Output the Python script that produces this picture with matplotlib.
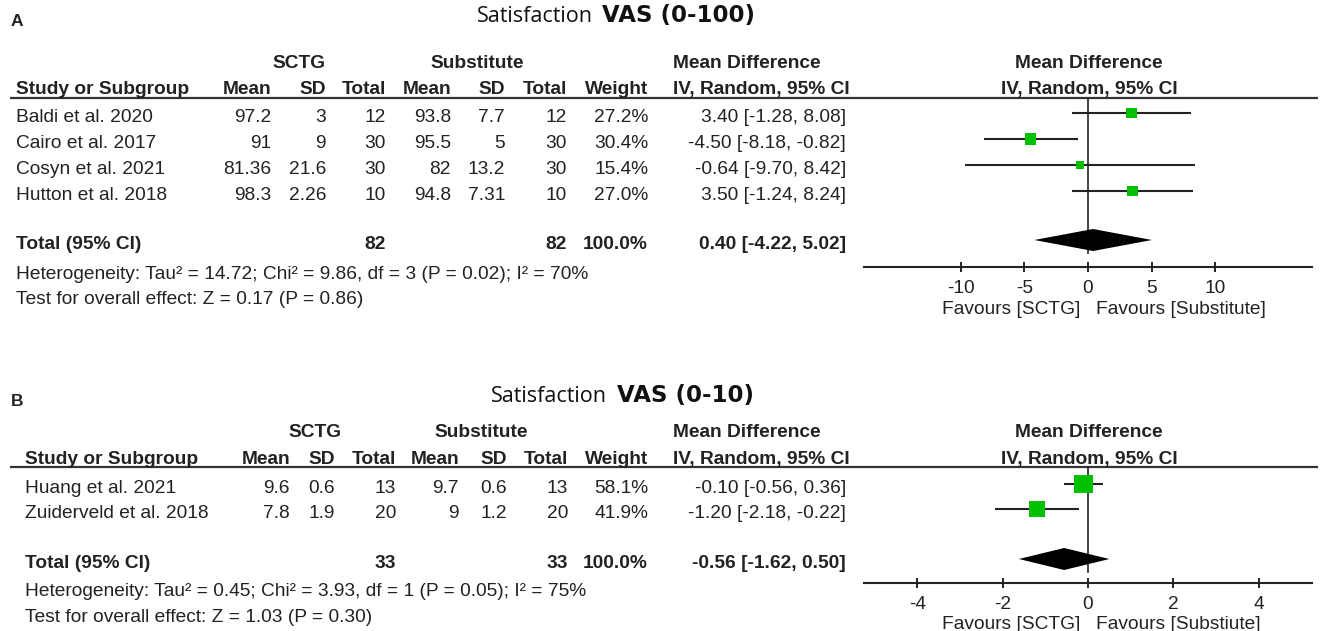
import numpy as np
import matplotlib.pyplot as plt

W, H = 1331, 631
DPI = 100

# ---- panel A: Satisfaction VAS (0-100) ----
studies_a = ["Baldi et al. 2020", "Cairo et al. 2017", "Cosyn et al. 2021", "Hutton et al. 2018"]
sctg_mean_a = [97.2, 91, 81.36, 98.3]
sctg_sd_a = [3, 9, 21.6, 2.26]
sctg_n_a = [12, 30, 30, 10]
sub_mean_a = [93.8, 95.5, 82, 94.8]
sub_sd_a = [7.7, 5, 13.2, 7.31]
sub_n_a = [12, 30, 30, 10]
weight_a = [27.2, 30.4, 15.4, 27.0]
md_a = [3.40, -4.50, -0.64, 3.50]
lo_a = [-1.28, -8.18, -9.70, -1.24]
hi_a = [8.08, -0.82, 8.42, 8.24]
total_a = [0.40, -4.22, 5.02]
total_n_a = [82, 82]
ticks_a = [-10, -5, 0, 5, 10]
het_a = "Heterogeneity: Tau² = 14.72; Chi² = 9.86, df = 3 (P = 0.02); I² = 70%"
test_a = "Test for overall effect: Z = 0.17 (P = 0.86)"

# ---- panel B: Satisfaction VAS (0-10) ----
studies_b = ["Huang et al. 2021", "Zuiderveld et al. 2018"]
sctg_mean_b = [9.6, 7.8]
sctg_sd_b = [0.6, 1.9]
sctg_n_b = [13, 20]
sub_mean_b = [9.7, 9]
sub_sd_b = [0.6, 1.2]
sub_n_b = [13, 20]
weight_b = [58.1, 41.9]
md_b = [-0.10, -1.20]
lo_b = [-0.56, -2.18]
hi_b = [0.36, -0.22]
total_b = [-0.56, -1.62, 0.50]
total_n_b = [33, 33]
ticks_b = [-4, -2, 0, 2, 4]
het_b = "Heterogeneity: Tau² = 0.45; Chi² = 3.93, df = 1 (P = 0.05); I² = 75%"
test_b = "Test for overall effect: Z = 1.03 (P = 0.30)"

TXT = "#222222"
GREEN = "#00c000"
FS = 13.8
CAP = 0.716 * FS * DPI / 72  # cap height in px, used to centre text on a row

plt.rcParams["font.family"] = ["Liberation Sans", "DejaVu Sans"]

fig = plt.figure(figsize=(W / DPI, H / DPI), dpi=DPI)
bg = fig.add_axes([0, 0, 1, 1])
bg.set_xlim(0, W)
bg.set_ylim(H, 0)
bg.axis("off")


def put(x, y, s, ha="left", bold=False, size=FS, **kw):
    bg.text(x, y + CAP * size / FS / 2, s, ha=ha, va="baseline", fontsize=size,
            fontweight="bold" if bold else "normal", color=TXT, **kw)


def g(v):
    return f"{v:g}"


def panel(top, letter, scale, split, cols, ys, studies, m1, s1, n1, m2, s2, n2,
          wts, md, lo, hi, tot, tot_n, ticks, het, test, xlim, sq_k, fav_right):
    # cols: left, mean, sd, total, mean2, sd2, total2, weight, grp1, grp2
    left, c_m1, c_s1, c_n1, c_m2, c_s2, c_n2, c_w, grp1, grp2 = cols
    # ys: group hdr, col hdr, rule, first row, row step, total gap, het, test, axis, favours
    d_grp, d_hdr, d_line, d_row0, step, d_tot, d_het, d_test, d_axis, d_fav = ys

    put(11, top + 20, letter, bold=True, size=12.5)
    bg.text(split[0], top + 22, "Satisfaction", ha="right", va="baseline",
            fontsize=15.5, family="Open Sans", color="#111111")
    bg.text(split[1], top + 22, f"VAS {scale}", ha="left", va="baseline",
            fontsize=16.5, family="DejaVu Sans", fontweight="bold", color="#111111")

    y_grp, y_hdr, y_line = top + d_grp, top + d_hdr, top + d_line
    put(grp1, y_grp, "SCTG", ha="center", bold=True)
    put(grp2, y_grp, "Substitute", ha="center", bold=True)
    put(673, y_grp, "Mean Difference", bold=True)
    put(1089, y_grp, "Mean Difference", ha="center", bold=True)
    put(left, y_hdr, "Study or Subgroup", bold=True)
    for x, s in zip([c_m1, c_s1, c_n1, c_m2, c_s2, c_n2, c_w],
                    ["Mean", "SD", "Total", "Mean", "SD", "Total", "Weight"]):
        put(x, y_hdr, s, ha="right", bold=True)
    put(673, y_hdr, "IV, Random, 95% CI", bold=True)
    put(1089, y_hdr, "IV, Random, 95% CI", ha="center", bold=True)
    bg.plot([10, 1318], [y_line, y_line], color="#333333", lw=1.6,
            solid_capstyle="butt")

    rows = [top + d_row0 + step * i for i in range(len(studies))]
    for y, st, a, b, c, d, e, f, w, m, l, h in zip(rows, studies, m1, s1, n1, m2, s2, n2,
                                                 wts, md, lo, hi):
        put(left, y, st)
        put(c_m1, y, g(a), ha="right")
        put(c_s1, y, g(b), ha="right")
        put(c_n1, y, g(c), ha="right")
        put(c_m2, y, g(d), ha="right")
        put(c_s2, y, g(e), ha="right")
        put(c_n2, y, g(f), ha="right")
        put(c_w, y, f"{w:.1f}%", ha="right")
        put(846, y, f"{m:.2f} [{l:.2f}, {h:.2f}]", ha="right")

    y_tot = rows[-1] + d_tot
    put(left, y_tot, "Total (95% CI)", bold=True)
    put(c_n1, y_tot, g(tot_n[0]), ha="right", bold=True)
    put(c_n2, y_tot, g(tot_n[1]), ha="right", bold=True)
    put(c_w, y_tot, f"{sum(wts):.1f}%", ha="right", bold=True)
    put(846, y_tot, f"{tot[0]:.2f} [{tot[1]:.2f}, {tot[2]:.2f}]", ha="right", bold=True)
    put(left, y_tot + d_het, het)
    put(left, y_tot + d_test, test)

    # forest plot, y axis in pixel rows so it lines up with the table
    y_axis = y_tot + d_axis
    x0, x1 = 864, 1312
    fx = fig.add_axes([x0 / W, 1 - y_axis / H, (x1 - x0) / W, (y_axis - y_line) / H])
    fx.set_facecolor("none")
    fx.set_xlim(-xlim, xlim)
    fx.set_ylim(y_axis, y_line)
    for sp in ["left", "right", "top"]:
        fx.spines[sp].set_visible(False)
    fx.spines["bottom"].set_linewidth(1.5)
    fx.spines["bottom"].set_color(TXT)
    fx.set_yticks([])
    fx.set_xticks(ticks)
    fx.set_xticklabels([g(t) for t in ticks])
    fx.tick_params(axis="x", direction="inout", length=7.5, width=1.4, colors=TXT,
                   labelsize=FS, pad=5.5)

    dh = 11
    fx.plot([0, 0], [y_line, y_tot + dh], color=TXT, lw=1.2)
    for y, m, l, h in zip(rows, md, lo, hi):
        fx.plot([l, h], [y - 2, y - 2], color=TXT, lw=1.5, solid_capstyle="butt")
    side = sq_k * np.sqrt(np.array(wts)) * 0.72
    fx.scatter(md, np.array(rows) - 2, s=side ** 2, marker="s", color=GREEN,
               linewidths=0, zorder=3)
    yc = y_tot - 2
    fx.fill([tot[1], tot[0], tot[2], tot[0]], [yc, yc - dh, yc, yc + dh],
            color="black", lw=0, zorder=3)

    put(1080, y_axis + d_fav, "Favours [SCTG]", ha="right")
    put(1096, y_axis + d_fav, fav_right, ha="left")


panel(0, "A", "(0-100)", (593, 602),
      [16, 271, 326, 386, 451, 505, 567, 648, 299, 477],
      [61, 87, 98, 115, 26, 49, 30, 55, 25, 40],
      studies_a, sctg_mean_a, sctg_sd_a, sctg_n_a, sub_mean_a, sub_sd_a, sub_n_a,
      weight_a, md_a, lo_a, hi_a, total_a, total_n_a, ticks_a, het_a, test_a,
      17.6, 2.05, "Favours [Substitute]")

panel(380, "B", "(0-10)", (607, 617),
      [25, 290, 335, 396, 459, 507, 568, 648, 315, 481],
      [50, 77, 87, 106, 25, 50, 28, 54, 22, 39],
      studies_b, sctg_mean_b, sctg_sd_b, sctg_n_b, sub_mean_b, sub_sd_b, sub_n_b,
      weight_b, md_b, lo_b, hi_b, total_b, total_n_b, ticks_b, het_b, test_b,
      5.25, 2.45, "Favours [Substiute]")

fig.savefig("out.png", dpi=DPI)
